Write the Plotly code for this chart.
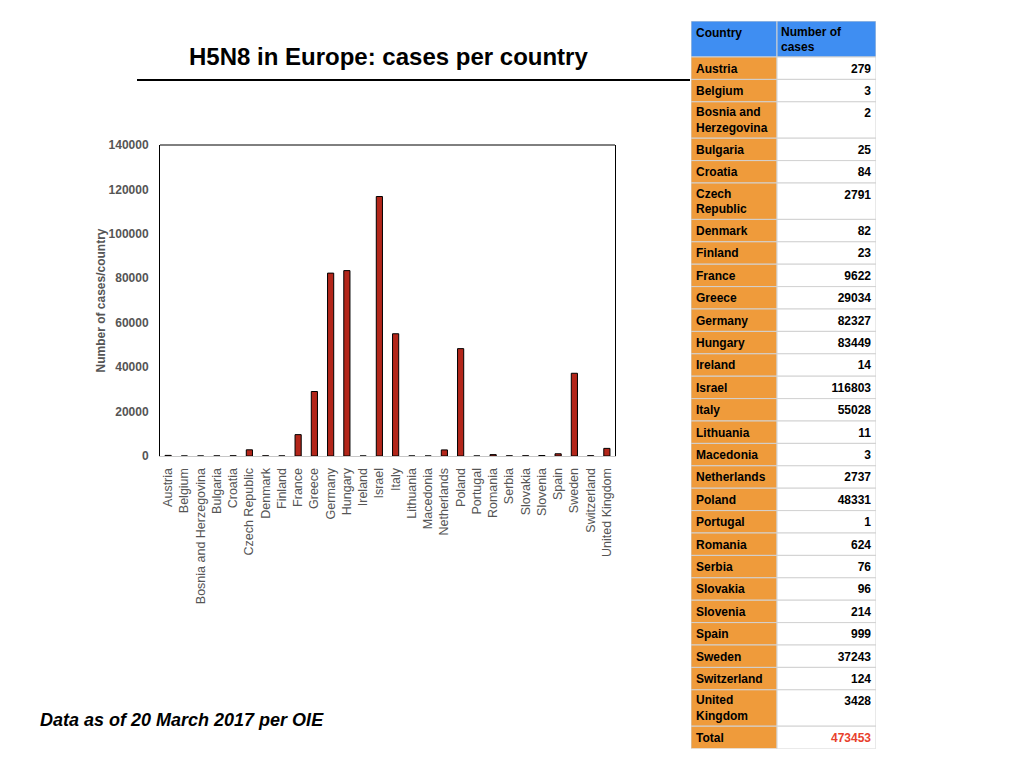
import plotly.graph_objects as go

# H5N8 cases per country, as of 20 March 2017 (OIE)
countries = ["Austria", "Belgium", "Bosnia and Herzegovina", "Bulgaria", "Croatia",
             "Czech Republic", "Denmark", "Finland", "France", "Greece", "Germany",
             "Hungary", "Ireland", "Israel", "Italy", "Lithuania", "Macedonia",
             "Netherlands", "Poland", "Portugal", "Romania", "Serbia", "Slovakia",
             "Slovenia", "Spain", "Sweden", "Switzerland", "United Kingdom"]
cases = [279, 3, 2, 25, 84, 2791, 82, 23, 9622, 29034, 82327, 83449, 14, 116803,
         55028, 11, 3, 2737, 48331, 1, 624, 76, 96, 214, 999, 37243, 124, 3428]
table_names = ["Austria", "Belgium", "Bosnia and<br>Herzegovina", "Bulgaria", "Croatia",
               "Czech<br>Republic", "Denmark", "Finland", "France", "Greece", "Germany",
               "Hungary", "Ireland", "Israel", "Italy", "Lithuania", "Macedonia",
               "Netherlands", "Poland", "Portugal", "Romania", "Serbia", "Slovakia",
               "Slovenia", "Spain", "Sweden", "Switzerland", "United<br>Kingdom"]
header = ["Country", "Number of<br>cases"]
total = 473453
y_ticks = [0, 20000, 40000, 60000, 80000, 100000, 120000, 140000]

W, H = 1024, 768
OFF = 8  # page offset of the plot div
FONT = "Liberation Sans, Arial, sans-serif"
GREY = "#555555"

def px_x(v):
    return (v - OFF) / W

def px_y(v):
    return 1 - (v - OFF) / H

# table rows (header, countries, total), heights grow with the number of lines
left_txt = [header[0]] + table_names + ["Total"]
right_txt = [header[1]] + [str(v) for v in cases] + [str(total)]
lines = [max(l.count("<br>"), r.count("<br>")) + 1 for l, r in zip(left_txt, right_txt)]
row_h = [22.4 + 14 * (n - 1) for n in lines]
row_h[0] = 36
tops = [sum(row_h[:i]) for i in range(len(row_h))]
mids = [t + h / 2 for t, h in zip(tops, row_h)]
left_y = [t + 12.5 + 7 * (left_txt[i].count("<br>")) for i, t in enumerate(tops)]
right_y = [t + 12.5 + 7 * (right_txt[i].count("<br>")) for i, t in enumerate(tops)]
n_rows = len(row_h)
tab_h = sum(row_h)
COL1, COL2 = 86, 99

fig = go.Figure()

fig.add_trace(go.Bar(
    x=countries, y=cases,
    marker=dict(color="#b3261a", line=dict(color="black", width=1)),
    width=0.38,
    showlegend=False,
    xaxis="x", yaxis="y",
))

# table cells
fig.add_trace(go.Bar(
    orientation="h", y=mids, x=[COL1] * n_rows, base=0, width=row_h,
    marker=dict(color=["#3f8ef2"] + ["#ef9b3b"] * (n_rows - 1),
                line=dict(color="#d2d2d2", width=1)),
    showlegend=False, hoverinfo="skip", xaxis="x2", yaxis="y2",
))
fig.add_trace(go.Bar(
    orientation="h", y=mids, x=[COL2] * n_rows, base=COL1, width=row_h,
    marker=dict(color=["#3f8ef2"] + ["white"] * (n_rows - 1),
                line=dict(color="#d2d2d2", width=1)),
    showlegend=False, hoverinfo="skip", xaxis="x2", yaxis="y2",
))
fig.add_trace(go.Scatter(
    x=[5] * n_rows, y=left_y, mode="text",
    text=[f"<b>{t}</b>" for t in left_txt], textposition="middle right",
    textfont=dict(family=FONT, size=12, color="black"),
    showlegend=False, hoverinfo="skip", xaxis="x2", yaxis="y2",
))
fig.add_trace(go.Scatter(
    x=[COL1 + 4] + [COL1 + COL2 - 5] * (n_rows - 1), y=right_y, mode="text",
    text=[f"<b>{t}</b>" for t in right_txt],
    textposition=["middle right"] + ["middle left"] * (n_rows - 1),
    textfont=dict(family=FONT, size=12,
                  color=["black"] * (n_rows - 1) + ["#e8412c"]),
    showlegend=False, hoverinfo="skip", xaxis="x2", yaxis="y2",
))

fig.update_layout(
    width=W, height=H,
    margin=dict(l=0, r=0, t=0, b=0, autoexpand=False),
    paper_bgcolor="white", plot_bgcolor="white",
    font=dict(family=FONT),
    barmode="overlay",
    xaxis=dict(
        domain=[px_x(160), px_x(615)],
        tickangle=-90,
        tickfont=dict(family=FONT, size=12.5, color=GREY),
        ticklabelstandoff=6,
        showline=True, linecolor="#c8c8c8", linewidth=1,
        showgrid=False, ticks="", automargin=False,
    ),
    yaxis=dict(
        domain=[px_y(456), px_y(145)],
        range=[0, 140000],
        tickvals=y_ticks,
        ticktext=[f"<b>{t}</b>" for t in y_ticks],
        tickfont=dict(family=FONT, size=12, color=GREY),
        ticklabelstandoff=8,
        showline=True, linecolor="black", linewidth=1, mirror=True,
        showgrid=False, zeroline=False, ticks="", automargin=False,
        title=dict(text="<b>Number of cases/country</b>",
                   font=dict(family=FONT, size=12, color=GREY), standoff=0),
    ),
    xaxis2=dict(
        domain=[px_x(691), px_x(876)], anchor="y2",
        range=[0, COL1 + COL2], visible=False, fixedrange=True,
    ),
    yaxis2=dict(
        domain=[px_y(21 + tab_h), px_y(21)], anchor="x2",
        range=[tab_h, 0], visible=False, fixedrange=True,
    ),
    shapes=[
        dict(type="line", xref="x domain", yref="y domain", x0=0, x1=1, y0=1, y1=1,
             line=dict(color="black", width=1)),
        dict(type="line", xref="paper", yref="paper", x0=px_x(137), x1=px_x(690),
             y0=px_y(80), y1=px_y(80), line=dict(color="black", width=2)),
    ],
    annotations=[
        dict(text="<b>H5N8 in Europe: cases per country</b>", xref="paper", yref="paper",
             x=px_x(388), y=px_y(56), xanchor="center", yanchor="middle", showarrow=False,
             font=dict(family=FONT, size=24, color="black")),
        dict(text="<b><i>Data as of 20 March 2017 per OIE</i></b>", xref="paper", yref="paper",
             x=px_x(38), y=px_y(720), xanchor="left", yanchor="middle", showarrow=False,
             font=dict(family=FONT, size=18, color="black")),
    ],
)

fig.write_html("out.html")
